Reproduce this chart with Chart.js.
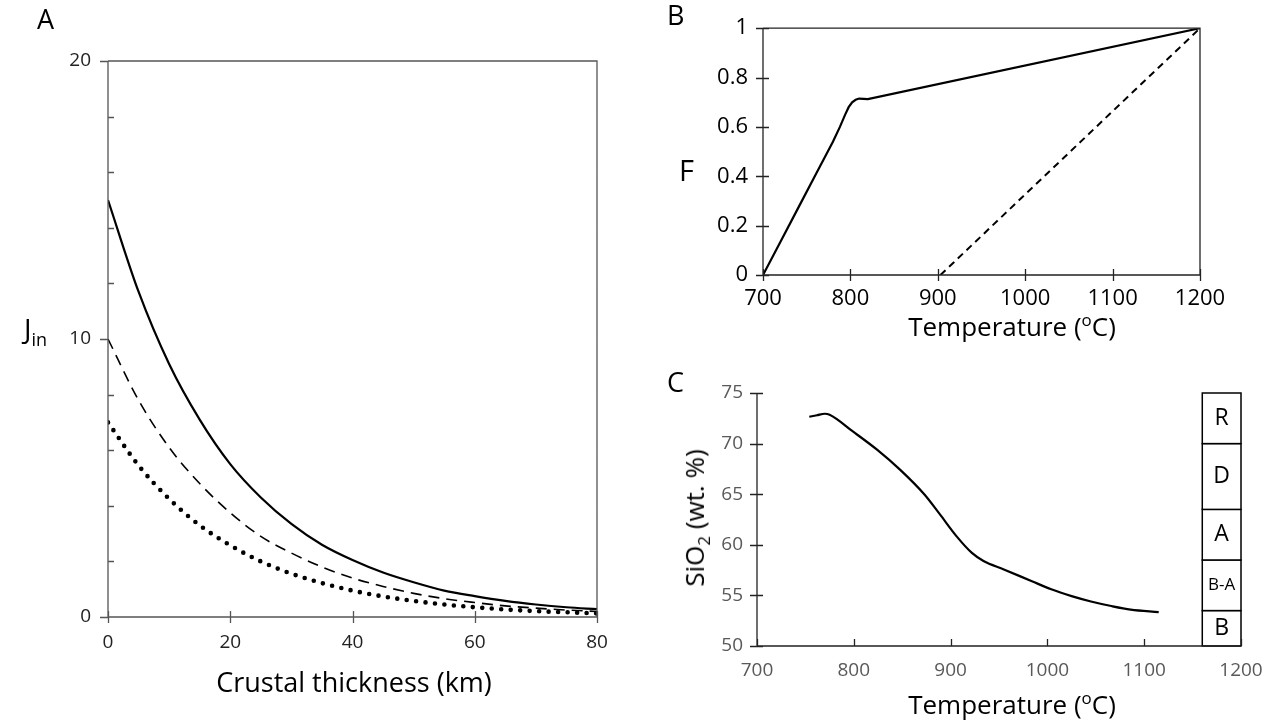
<!DOCTYPE html>
<html>
<head>
<meta charset="utf-8">
<script src="https://cdn.jsdelivr.net/npm/chart.js@4.4.1/dist/chart.umd.min.js"></script>
<style>
  body { margin: 0; background: #fff; width: 1277px; height: 727px; position: relative; overflow: hidden; font-family: "Open Sans", sans-serif; }
  canvas { position: absolute; }
  .lbl { position: absolute; color: #000; white-space: nowrap; line-height: 1; }
  sub, sup { font-size: 65%; }
</style>
</head>
<body>
<canvas id="chartA" width="640" height="727" style="left:0;top:0;width:640px;height:727px"></canvas>
<canvas id="chartB" width="637" height="360" style="left:640px;top:0;width:637px;height:360px"></canvas>
<canvas id="chartC" width="637" height="367" style="left:640px;top:360px;width:637px;height:367px"></canvas>

<div class="lbl" style="left:37px;top:5px;font-size:27px">A</div>
<div class="lbl" style="left:667px;top:1px;font-size:27px">B</div>
<div class="lbl" style="left:667px;top:368px;font-size:27px">C</div>

<div class="lbl" style="left:24px;top:314px;font-size:28px">J<sub style="font-size:18px">in</sub></div>
<div class="lbl" style="left:354px;top:668px;font-size:27px;transform:translateX(-50%)">Crustal thickness (km)</div>

<div class="lbl" style="left:679px;top:155px;font-size:29px">F</div>
<div class="lbl" style="left:1012px;top:312px;font-size:26px;transform:translateX(-50%)">Temperature (<sup>o</sup>C)</div>

<div class="lbl" style="left:697px;top:518px;font-size:26px;transform:translate(-50%,-50%) rotate(-90deg)">SiO<sub>2</sub> (wt. %)</div>
<div class="lbl" style="left:1012px;top:690px;font-size:26px;transform:translateX(-50%)">Temperature (<sup>o</sup>C)</div>

<script>
// Panel A: inflow J_in vs crustal thickness
const thickness = [0, 5, 10, 15, 20, 25, 30, 35, 40, 45, 50, 55, 60, 65, 70, 75, 80];
const jSolid  = [15, 11.7, 9.1, 7.1, 5.5, 4.3, 3.35, 2.6, 2.05, 1.6, 1.25, 0.95, 0.75, 0.58, 0.45, 0.35, 0.28];
const jDashed = [10, 7.8, 6.1, 4.8, 3.75, 2.9, 2.3, 1.8, 1.4, 1.1, 0.85, 0.66, 0.52, 0.4, 0.32, 0.25, 0.2];
const jDotted = [7, 5.45, 4.25, 3.3, 2.58, 2.0, 1.56, 1.22, 0.95, 0.74, 0.58, 0.45, 0.35, 0.27, 0.21, 0.17, 0.13];

// Panel B: melt fraction F vs temperature
const tempSolid = [700, 720, 740, 760, 780, 788, 794, 798, 802, 806, 810, 815, 820, 1200];
const fSolid    = [0, 0.135, 0.27, 0.405, 0.54, 0.6, 0.65, 0.68, 0.70, 0.71, 0.715, 0.714, 0.713, 1];
const tempDashed = [903, 1200];
const fDashed    = [0, 1];

// Panel C: SiO2 vs temperature
const tempSi = [754, 762, 770, 775, 799, 824, 848, 873, 889, 906, 922, 934, 955, 984, 1004, 1025, 1045, 1066, 1086, 1115];
const sio2   = [72.65, 72.8, 72.95, 72.85, 71.2, 69.4, 67.4, 64.97, 63.0, 60.86, 59.2, 58.4, 57.57, 56.4, 55.6, 54.93, 54.4, 53.95, 53.6, 53.35];

// rock type boxes (SiO2 limits)
const rockNames  = ["B", "B-A", "A", "D", "R"];
const rockLimits = [50, 53.5, 58.5, 63.5, 70, 75];
const rockTemp   = [1160, 1200];

const FONT = '"Open Sans", sans-serif';

function pts(xs, ys) {
  return xs.map((x, i) => ({ x, y: ys[i] }));
}

// axis lines, tick marks and frame
const axisPlugin = {
  id: "axisMarks",
  afterDraw(chart, args, o) {
    const ctx = chart.ctx;
    const a = chart.chartArea;
    const sx = chart.scales.x, sy = chart.scales.y;
    ctx.save();
    ctx.strokeStyle = o.color;
    ctx.lineWidth = 1.3;
    ctx.beginPath();
    ctx.moveTo(a.left, a.top); ctx.lineTo(a.left, a.bottom); ctx.lineTo(a.right, a.bottom);
    if (o.frame) { ctx.lineTo(a.right, a.top); ctx.lineTo(a.left, a.top); }
    sx.ticks.forEach(t => {
      const p = Math.round(sx.getPixelForValue(t.value)) + 0.5;
      ctx.moveTo(p, a.bottom - o.xUp); ctx.lineTo(p, a.bottom + o.xDown);
    });
    sy.ticks.forEach(t => {
      const p = Math.round(sy.getPixelForValue(t.value)) + 0.5;
      ctx.moveTo(a.left - o.yLeft, p); ctx.lineTo(a.left + o.yRight, p);
    });
    if (o.yMinor) {
      for (let v = sy.min + o.yMinor; v < sy.max; v += o.yMinor) {
        if (Math.abs(v % sy.options.ticks.stepSize) < 1e-6) continue;
        const p = Math.round(sy.getPixelForValue(v)) + 0.5;
        ctx.moveTo(a.left, p); ctx.lineTo(a.left + 6, p);
      }
    }
    ctx.stroke();
    ctx.restore();
  }
};

const rockPlugin = {
  id: "rockBoxes",
  afterDatasetsDraw(chart) {
    if (!chart.options.plugins.rockBoxes) return;
    const ctx = chart.ctx;
    const sx = chart.scales.x, sy = chart.scales.y;
    const x0 = sx.getPixelForValue(rockTemp[0]), x1 = sx.getPixelForValue(rockTemp[1]);
    ctx.save();
    ctx.strokeStyle = "#000";
    ctx.lineWidth = 1.5;
    ctx.fillStyle = "#fff";
    rockNames.forEach((name, i) => {
      const yb = sy.getPixelForValue(rockLimits[i]), yt = sy.getPixelForValue(rockLimits[i + 1]);
      ctx.fillRect(x0, yt, x1 - x0, yb - yt);
      ctx.strokeRect(x0, yt, x1 - x0, yb - yt);
      ctx.fillStyle = "#000";
      ctx.font = (name.length > 1 ? "17px " : "23px ") + FONT;
      ctx.textAlign = "center";
      ctx.textBaseline = "middle";
      ctx.fillText(name, (x0 + x1) / 2, (yt + yb) / 2);
      ctx.fillStyle = "#fff";
    });
    ctx.restore();
  }
};

function scaleOpts(min, max, step, fontSize, color, pad, fit, horizontal) {
  return {
    type: "linear", min, max,
    grid: { display: false, drawTicks: false },
    border: { display: false },
    ticks: {
      stepSize: step, color, padding: pad, font: { family: FONT, size: fontSize },
      maxRotation: 0, autoSkip: false,
      callback: v => String(Math.round(v * 100) / 100)
    },
    afterFit: s => { if (horizontal) s.height = fit; else s.width = fit; }
  };
}

function lineSet(data, width, dash, cap) {
  return {
    data, borderColor: "#000", borderWidth: width, borderDash: dash || [],
    borderCapStyle: cap || "butt", pointRadius: 0, fill: false,
    tension: 0.4, cubicInterpolationMode: "monotone"
  };
}

Chart.register(axisPlugin, rockPlugin);

new Chart(document.getElementById("chartA"), {
  type: "line",
  data: {
    datasets: [
      lineSet(pts(thickness, jSolid), 2.2),
      lineSet(pts(thickness, jDashed), 1.6, [11, 7]),
      lineSet(pts(thickness, jDotted), 4.6, [0, 9.5], "round")
    ]
  },
  options: {
    responsive: false, animation: false,
    layout: { padding: { left: 48, right: 43, top: 61, bottom: 70 } },
    plugins: { legend: { display: false }, tooltip: { enabled: false },
      axisMarks: { color: "#555", frame: true, xUp: 6, xDown: 6, yLeft: 8, yRight: 0, yMinor: 2 } },
    scales: {
      x: scaleOpts(0, 80, 20, 19, "#222", 14, 40, true),
      y: scaleOpts(0, 20, 10, 19, "#222", 17, 60, false)
    }
  }
});

new Chart(document.getElementById("chartB"), {
  type: "line",
  data: {
    datasets: [
      Object.assign(lineSet(pts(tempSolid, fSolid), 2.2), { tension: 0, cubicInterpolationMode: "default" }),
      lineSet(pts(tempDashed, fDashed), 2, [7, 5])
    ]
  },
  options: {
    responsive: false, animation: false,
    layout: { padding: { left: 63, right: 77, top: 20, bottom: 45 } },
    plugins: { legend: { display: false }, tooltip: { enabled: false },
      axisMarks: { color: "#222", frame: true, xUp: 6, xDown: 6, yLeft: 7, yRight: 6 } },
    scales: {
      x: scaleOpts(700, 1200, 100, 22, "#000", 11, 40, true),
      y: scaleOpts(0, 1, 0.2, 22, "#000", 15, 60, false)
    }
  }
});

new Chart(document.getElementById("chartC"), {
  type: "line",
  data: {
    datasets: [lineSet(pts(tempSi, sio2), 2.2)]
  },
  options: {
    responsive: false, animation: false,
    layout: { padding: { left: 57, right: 36, top: 33, bottom: 41 } },
    plugins: { legend: { display: false }, tooltip: { enabled: false }, rockBoxes: true,
      axisMarks: { color: "#222", frame: false, xUp: 7, xDown: 0, yLeft: 7, yRight: 6 } },
    scales: {
      x: scaleOpts(700, 1200, 100, 19, "#595959", 13, 40, true),
      y: scaleOpts(50, 75, 5, 19, "#595959", 14, 60, false)
    }
  }
});
</script>
</body>
</html>
